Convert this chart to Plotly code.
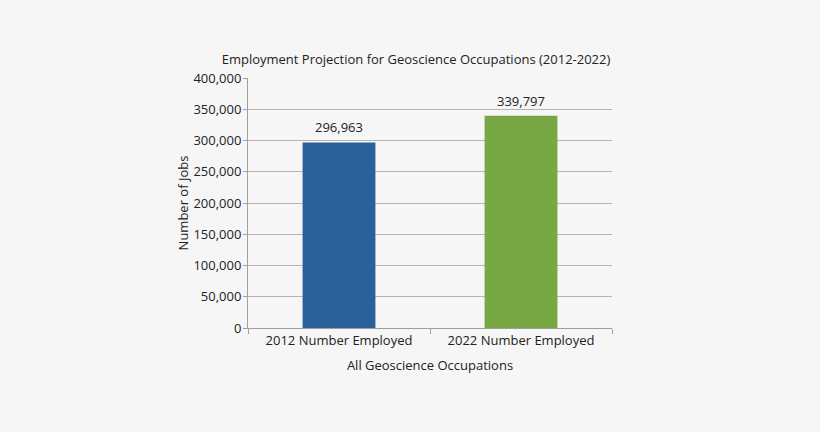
import plotly.graph_objects as go

categories = ["2012 Number Employed", "2022 Number Employed"]
values = [296963, 339797]
colors = ["#2a6099", "#77a843"]
y_ticks = [0, 50000, 100000, 150000, 200000, 250000, 300000, 350000, 400000]

fig = go.Figure(go.Bar(
    x=categories, y=values, marker=dict(color=colors, line=dict(width=0)),
    width=0.4, hoverinfo="x+y",
))

for c, v in zip(categories, values):
    fig.add_annotation(x=c, y=v, text=f"{v:,}", showarrow=False,
                       yanchor="middle", yshift=15,
                       font=dict(family="Open Sans", size=13, color="#222"))

fig.update_layout(
    width=820, height=432,
    paper_bgcolor="#f6f6f6", plot_bgcolor="#f6f6f6",
    margin=dict(l=248, r=208, t=78, b=104),
    font=dict(family="Open Sans", size=13, color="#222"),
    title=dict(text="Employment Projection for Geoscience Occupations (2012-2022)",
               x=416/820, xanchor="center", y=1-59/432, yanchor="middle",
               font=dict(size=13, color="#222")),
    showlegend=False,
)
fig.update_yaxes(range=[0, 400000], tickvals=y_ticks, tickformat=",",
                 showgrid=True, gridcolor="#b4b4b4", gridwidth=1,
                 showline=True, linecolor="#a0a0a0", ticks="outside", ticklen=4,
                 tickcolor="#a0a0a0", zeroline=False, ticklabelstandoff=-1,
                 title=dict(text="Number of Jobs", standoff=1, font=dict(size=13)))
fig.update_xaxes(showline=True, linecolor="#a0a0a0", ticks="outside", ticklen=5,
                 tickcolor="#a0a0a0", tickson="boundaries",
                 title=dict(text="All Geoscience Occupations", standoff=13, font=dict(size=13)))

fig.write_html("out.html", config={"displayModeBar": False},
               post_script="document.body.style.margin='0';document.body.style.background='#f6f6f6';")
